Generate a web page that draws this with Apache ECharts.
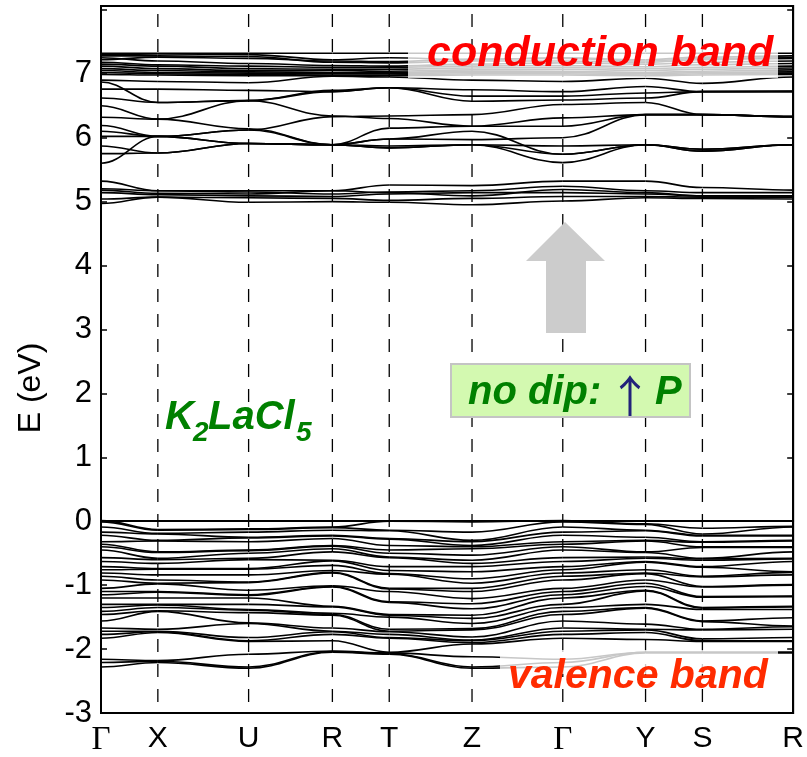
<!DOCTYPE html>
<html><head><meta charset="utf-8">
<script src="https://cdn.jsdelivr.net/npm/echarts@6/dist/echarts.min.js"></script>
<style>html,body{margin:0;padding:0;background:#fff}#c{width:807px;height:757px}</style>
</head><body><div id="c"></div>
<script>
// k-path (arbitrary path-length units) and high-symmetry labels
const kPath = [0, 0.57, 1.48, 2.32, 2.89, 3.72, 4.63, 5.46, 6.03, 6.94];
const kLabels = ['Γ','X','U','R','T','Z','Γ','Y','S','R'];
const yMin = -3, yMax = 8.06;

// conduction bands, one array per band, values (eV) at Γ X U R T Z Γ Y S R
const condLower = [
 [5.32, 5.17, 5.17, 5.17, 5.26, 5.25, 5.32, 5.32, 5.22, 5.18],
 [5.20, 5.17, 5.15, 5.12, 5.15, 5.17, 5.24, 5.17, 5.14, 5.14],
 [5.18, 5.13, 5.12, 5.17, 5.14, 5.09, 5.19, 5.14, 5.09, 5.09],
 [5.14, 5.11, 5.09, 5.08, 5.12, 5.14, 5.14, 5.12, 5.09, 5.09],
 [5.04, 5.07, 5.06, 5.05, 5.02, 5.05, 5.08, 5.08, 5.07, 5.07],
 [4.97, 5.07, 4.99, 5.00, 4.99, 4.95, 5.01, 5.06, 5.05, 5.04]
];
const condMiddle = [
 [6.90, 6.88, 6.86, 6.96, 6.95, 6.90, 6.88, 6.93, 6.85, 6.95],
 [6.87, 6.55, 6.58, 6.72, 6.78, 6.75, 6.72, 6.80, 6.72, 6.72],
 [6.76, 6.76, 6.74, 6.72, 6.78, 6.65, 6.65, 6.70, 6.72, 6.73],
 [6.62, 6.55, 6.58, 6.34, 6.30, 6.18, 6.31, 6.36, 6.36, 6.33],
 [6.50, 6.29, 6.58, 6.74, 6.78, 6.57, 6.59, 6.62, 6.72, 6.72],
 [6.32, 6.29, 6.14, 5.89, 5.98, 5.97, 6.00, 6.36, 6.36, 6.33],
 [6.19, 6.02, 6.12, 6.33, 6.34, 6.36, 6.52, 6.55, 6.36, 6.33],
 [6.10, 6.02, 6.12, 5.89, 5.84, 5.89, 5.87, 5.89, 5.79, 5.89],
 [6.02, 6.02, 5.91, 5.89, 6.15, 6.18, 6.18, 6.36, 6.36, 6.33],
 [5.87, 5.76, 5.91, 5.89, 5.98, 6.10, 5.74, 5.89, 5.82, 5.89],
 [5.75, 5.76, 5.91, 5.89, 5.87, 5.89, 5.74, 5.89, 5.82, 5.89],
 [5.60, 6.02, 5.91, 5.89, 5.84, 5.89, 5.61, 5.89, 5.79, 5.89]
];
const condUpper = [
 [7.32, 7.32, 7.32, 7.32, 7.32, 7.32, 7.32, 7.32, 7.32, 7.32],
 [7.30, 7.31, 7.30, 7.22, 7.25, 7.22, 7.25, 7.22, 7.26, 7.28],
 [7.28, 7.28, 7.27, 7.18, 7.17, 7.20, 7.20, 7.18, 7.22, 7.24],
 [7.22, 7.26, 7.24, 7.20, 7.19, 7.23, 7.24, 7.20, 7.24, 7.25],
 [7.25, 7.20, 7.16, 7.13, 7.12, 7.15, 7.17, 7.15, 7.18, 7.20],
 [7.18, 7.14, 7.12, 7.10, 7.10, 7.12, 7.13, 7.11, 7.14, 7.16],
 [7.15, 7.12, 7.08, 7.07, 7.07, 7.09, 7.10, 7.08, 7.10, 7.12],
 [7.12, 7.08, 7.05, 7.05, 7.04, 7.06, 7.07, 7.05, 7.07, 7.09],
 [7.08, 7.05, 7.03, 7.02, 7.02, 7.04, 7.04, 7.02, 7.04, 7.06],
 [7.05, 7.02, 7.01, 7.00, 7.00, 7.02, 7.02, 7.00, 7.02, 7.03],
 [7.02, 7.00, 6.99, 6.98, 6.98, 7.00, 7.00, 6.98, 7.00, 7.01],
 [6.99, 6.98, 6.97, 6.97, 6.97, 6.98, 6.98, 6.97, 6.98, 6.99]
];

// valence bands: sorted energies (eV) at each high-symmetry point
const valG  = [0.01,-0.01,-0.09,-0.17,-0.22,-0.32,-0.36,-0.40,-0.45,-0.57,-0.63,-0.71,-0.76,-0.81,-0.86,-0.92,-1.05,-1.10,-1.15,-1.20,-1.30,-1.35,-1.41,-1.46,-1.56,-1.67,-1.72,-1.77,-1.83,-2.16,-2.21,-2.28];
const valX  = [-0.13,-0.14,-0.19,-0.20,-0.30,-0.31,-0.48,-0.49,-0.58,-0.60,-0.66,-0.74,-0.75,-0.84,-0.92,-0.97,-0.98,-1.10,-1.11,-1.20,-1.30,-1.31,-1.35,-1.40,-1.41,-1.69,-1.72,-1.73,-1.74,-2.18,-2.19,-2.21];
const valU  = [-0.12,-0.13,-0.17,-0.25,-0.26,-0.32,-0.45,-0.46,-0.50,-0.58,-0.60,-0.74,-0.75,-0.84,-0.95,-0.96,-1.08,-1.15,-1.16,-1.20,-1.30,-1.38,-1.39,-1.43,-1.59,-1.60,-1.82,-1.87,-1.88,-2.08,-2.28,-2.30];
const valR  = [-0.09,-0.10,-0.14,-0.22,-0.23,-0.27,-0.38,-0.39,-0.43,-0.48,-0.61,-0.62,-0.69,-0.77,-0.80,-0.81,-1.01,-1.02,-1.03,-1.33,-1.34,-1.44,-1.46,-1.47,-1.67,-1.72,-1.73,-1.77,-1.87,-2.03,-2.04,-2.05];
const valT  = [0.00,-0.14,-0.15,-0.27,-0.28,-0.38,-0.45,-0.50,-0.56,-0.57,-0.71,-0.77,-0.82,-0.83,-1.05,-1.06,-1.10,-1.26,-1.27,-1.46,-1.47,-1.50,-1.69,-1.72,-1.73,-1.77,-1.82,-1.83,-2.05,-2.06,-2.07,-2.08];
const valZ  = [-0.01,-0.17,-0.30,-0.32,-0.38,-0.40,-0.43,-0.53,-0.61,-0.66,-0.71,-0.79,-0.90,-0.97,-1.05,-1.10,-1.21,-1.29,-1.37,-1.47,-1.52,-1.60,-1.68,-1.70,-1.81,-1.86,-1.87,-1.90,-1.92,-2.12,-2.28,-2.30];
const valY  = [-0.04,-0.05,-0.14,-0.15,-0.25,-0.30,-0.31,-0.48,-0.49,-0.56,-0.58,-0.63,-0.64,-0.76,-0.81,-0.82,-0.92,-0.97,-1.02,-1.08,-1.09,-1.30,-1.35,-1.36,-1.61,-1.69,-1.70,-1.74,-1.85,-2.05,-2.05,-2.06];
const valS  = [-0.11,-0.20,-0.22,-0.23,-0.32,-0.33,-0.40,-0.41,-0.58,-0.59,-0.61,-0.71,-0.72,-0.86,-0.87,-1.02,-1.03,-1.18,-1.19,-1.35,-1.36,-1.38,-1.56,-1.57,-1.69,-1.70,-1.84,-1.87,-1.88,-2.05,-2.05,-2.06];
const valR2 = [-0.08,-0.09,-0.22,-0.23,-0.30,-0.31,-0.40,-0.41,-0.48,-0.58,-0.59,-0.63,-0.79,-0.80,-0.84,-0.99,-1.00,-1.17,-1.18,-1.33,-1.34,-1.38,-1.51,-1.64,-1.65,-1.69,-1.82,-1.87,-1.88,-2.05,-2.05,-2.06];

// build band table
const valAtK = [valG, valX, valU, valR, valT, valZ, valG, valY, valS, valR2];
const valBands = valG.map((_, i) => valAtK.map(col => col[i]));
const bands = [].concat(condUpper, condMiddle, condLower, valBands);

const chart = echarts.init(document.getElementById('c'), null, {renderer: 'canvas'});
const sans = '"Liberation Sans", Arial, Helvetica, sans-serif';

function bandItem(params, api) {
  const b = bands[api.value(2)];
  const pts = kPath.map((k, j) => api.coord([k, b[j]]));
  const children = [];
  for (let j = 0; j < pts.length - 1; j++) {
    const p = pts[j], q = pts[j + 1], dx = (q[0] - p[0]) * 0.4;
    children.push({
      type: 'bezierCurve',
      shape: {x1: p[0], y1: p[1], x2: q[0], y2: q[1], cpx1: p[0] + dx, cpy1: p[1], cpx2: q[0] - dx, cpy2: q[1]},
      style: {stroke: '#000', fill: 'none', lineWidth: 1.6}
    });
  }
  return {type: 'group', children};
}
function dashItem(params, api) {
  const x = api.value(0);
  const p0 = api.coord([x, yMax]), p1 = api.coord([x, yMin]);
  return {type: 'line', shape: {x1: p0[0], y1: p0[1], x2: p1[0], y2: p1[1]},
    style: {stroke: '#000', lineWidth: 1.3, lineDash: [13, 12], lineDashOffset: 17}};
}

const option = {
  backgroundColor: '#fff',
  animation: false,
  grid: {left: 101, right: 12, top: 6, bottom: 41, show: true, borderColor: '#000', borderWidth: 2, backgroundColor: 'transparent'},
  xAxis: {
    type: 'value', min: 0, max: kPath[kPath.length - 1],
    axisLine: {show: true, lineStyle: {color: '#000', width: 2}},
    axisTick: {show: false}, splitLine: {show: false},
    axisLabel: {
      customValues: kPath, margin: 11, color: '#000', fontSize: 30, fontFamily: sans,
      formatter: v => { const i = kPath.findIndex(k => Math.abs(k - v) < 1e-6); const s = kLabels[i] || ''; return s === 'Γ' ? '{g|Γ}' : s; },
      rich: {g: {fontFamily: '"Liberation Serif", "Times New Roman", serif', fontSize: 33, color: '#000'}}
    }
  },
  yAxis: [{
    type: 'value', min: yMin, max: yMax, interval: 1, position: 'left',
    axisLine: {show: true, lineStyle: {color: '#000', width: 2}},
    axisTick: {show: true, inside: true, length: 6, lineStyle: {color: '#000', width: 1.5}},
    splitLine: {show: false},
    axisLabel: {margin: 9, color: '#000', fontSize: 31, fontFamily: sans,
      formatter: v => (v > 7.5 || Math.abs(v - Math.round(v)) > 1e-6) ? '' : String(Math.round(v))}
  }, {
    type: 'value', min: yMin, max: yMax, interval: 1, position: 'right',
    axisLine: {show: true, lineStyle: {color: '#000', width: 2}},
    axisTick: {show: true, inside: true, length: 6, lineStyle: {color: '#000', width: 1.5}},
    splitLine: {show: false}, axisLabel: {show: false}
  }],
  series: [
    {type: 'custom', name: 'symmetry lines', renderItem: dashItem, silent: true, z: 1,
     encode: {x: 0, y: 1}, data: kPath.slice(1, -1).map(k => [k, 0])},
    {type: 'custom', name: 'bands', renderItem: bandItem, silent: true, z: 2,
     encode: {x: 0, y: 1}, data: bands.map((b, i) => [kPath[0], b[0], i])}
  ],
  graphic: [
    {type: 'rect', z: 10, shape: {x: 408, y: 48, width: 370, height: 30}, style: {fill: 'rgba(255,255,255,0.78)'}},
    {type: 'text', z: 11, x: 427, y: 54, style: {text: 'conduction band', font: 'italic bold 43px ' + sans, fill: '#ff0000', align: 'left', verticalAlign: 'middle'}},
    {type: 'rect', z: 10, shape: {x: 500, y: 650, width: 278, height: 24}, style: {fill: 'rgba(255,255,255,0.78)'}},
    {type: 'text', z: 11, x: 508, y: 677, style: {text: 'valence band', font: 'italic bold 41px ' + sans, fill: '#ff2b00', align: 'left', verticalAlign: 'middle'}},
    {type: 'polygon', z: 10, shape: {points: [[565, 222], [605, 261], [586, 261], [586, 333], [546, 333], [546, 261], [526, 261]]}, style: {fill: '#cccccc'}},
    {type: 'rect', z: 10, shape: {x: 451, y: 364, width: 239, height: 53}, style: {fill: '#d3f9b0', stroke: '#c4c4c4', lineWidth: 2}},
    {type: 'text', z: 11, x: 468, y: 393, style: {text: 'no dip:', font: 'italic bold 40px ' + sans, fill: '#008000', align: 'left', verticalAlign: 'middle'}},
    {type: 'text', z: 11, x: 630, y: 396, style: {text: '↑', font: '44px "Noto Sans CJK SC", "DejaVu Sans", sans-serif', fill: '#22227a', align: 'center', verticalAlign: 'middle'}},
    {type: 'text', z: 11, x: 655, y: 393, style: {text: 'P', font: 'italic bold 40px ' + sans, fill: '#008000', align: 'left', verticalAlign: 'middle'}},
    {type: 'text', z: 11, x: 165, y: 418, style: {text: 'K', font: 'italic bold 40px ' + sans, fill: '#008000', align: 'left', verticalAlign: 'middle'}},
    {type: 'text', z: 11, x: 193, y: 433, style: {text: '2', font: 'italic bold 28px ' + sans, fill: '#008000', align: 'left', verticalAlign: 'middle'}},
    {type: 'text', z: 11, x: 208, y: 418, style: {text: 'LaCl', font: 'italic bold 40px ' + sans, fill: '#008000', align: 'left', verticalAlign: 'middle'}},
    {type: 'text', z: 11, x: 296, y: 433, style: {text: '5', font: 'italic bold 28px ' + sans, fill: '#008000', align: 'left', verticalAlign: 'middle'}},
    {type: 'text', z: 11, x: 31, y: 388, rotation: Math.PI / 2, style: {text: 'E (eV)', font: '32px ' + sans, fill: '#000', align: 'center', verticalAlign: 'middle'}}
  ]
};
chart.setOption(option);
</script>
</body></html>
